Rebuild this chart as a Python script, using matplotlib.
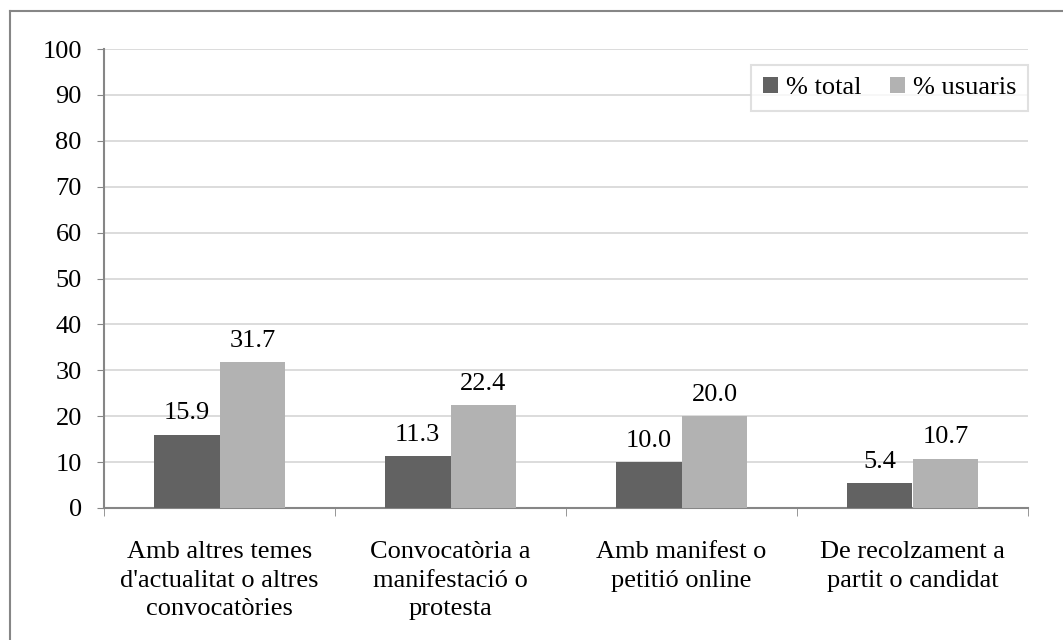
import matplotlib.pyplot as plt
from matplotlib.lines import Line2D
import numpy as np

plt.rcParams['font.family'] = ['Liberation Serif', 'DejaVu Serif']

categories = ["Amb altres temes\nd'actualitat o altres\nconvocatòries",
              "Convocatòria a\nmanifestació o\nprotesta",
              "Amb manifest o\npetitió online",
              "De recolzament a\npartit o candidat"]
total = [15.9, 11.3, 10.0, 5.4]
usuaris = [31.7, 22.4, 20.0, 10.7]

dark = "#626262"
light = "#b2b2b2"
fs = 19

fig = plt.figure(figsize=(10.63, 6.4), dpi=100)
ax = fig.add_axes([104/1063, 132/640, 924/1063, 459/640])

x = np.arange(len(categories))
w = 0.2857
b1 = ax.bar(x - w/2, total, w, color=dark, label="% total", zorder=3)
b2 = ax.bar(x + w/2, usuaris, w, color=light, label="% usuaris", zorder=3)

for bars, vals in [(b1, total), (b2, usuaris)]:
    for r, v in zip(bars, vals):
        ax.text(r.get_x() + r.get_width()/2, v + 2.3, "%.1f" % v,
                ha="center", va="bottom", fontsize=fs, zorder=4)

ax.set_xlim(-0.5, 3.5)
ax.set_ylim(0, 100)
ax.set_yticks(range(0, 101, 10))
ax.yaxis.grid(True, color="#d9d9d9", linewidth=1.3, zorder=0)
ax.set_axisbelow(True)
ax.tick_params(axis="y", labelsize=fs, length=5, color="#868686", pad=11)

ax.set_xticks(x)
ax.set_xticklabels(categories, fontsize=fs, linespacing=1.38)
ax.tick_params(axis="x", length=0, pad=24)
ax.set_xticks([-0.5, 0.5, 1.5, 2.5, 3.5], minor=True)
ax.tick_params(axis="x", which="minor", length=6, color="#868686", direction="out")

for s in ["top", "right"]:
    ax.spines[s].set_visible(False)
for s in ["left", "bottom"]:
    ax.spines[s].set_color("#868686")
    ax.spines[s].set_linewidth(1.5)

leg = ax.legend(loc="upper right", bbox_to_anchor=(1.0, 0.965), borderaxespad=0,
                ncol=2, fontsize=fs, frameon=True, fancybox=False, edgecolor="#d9d9d9",
                handlelength=0.55, handleheight=0.55, handletextpad=0.3,
                columnspacing=1.1, borderpad=0.45)
leg.get_frame().set_linewidth(1.5)

# outer chart border
fig.add_artist(Line2D([10/1063, 10/1063], [0, 1 - 11/640], transform=fig.transFigure,
                      color="#868686", linewidth=1.5))
fig.add_artist(Line2D([10/1063, 1], [1 - 11/640, 1 - 11/640], transform=fig.transFigure,
                      color="#868686", linewidth=1.5))

plt.savefig("out.png", dpi=100)
